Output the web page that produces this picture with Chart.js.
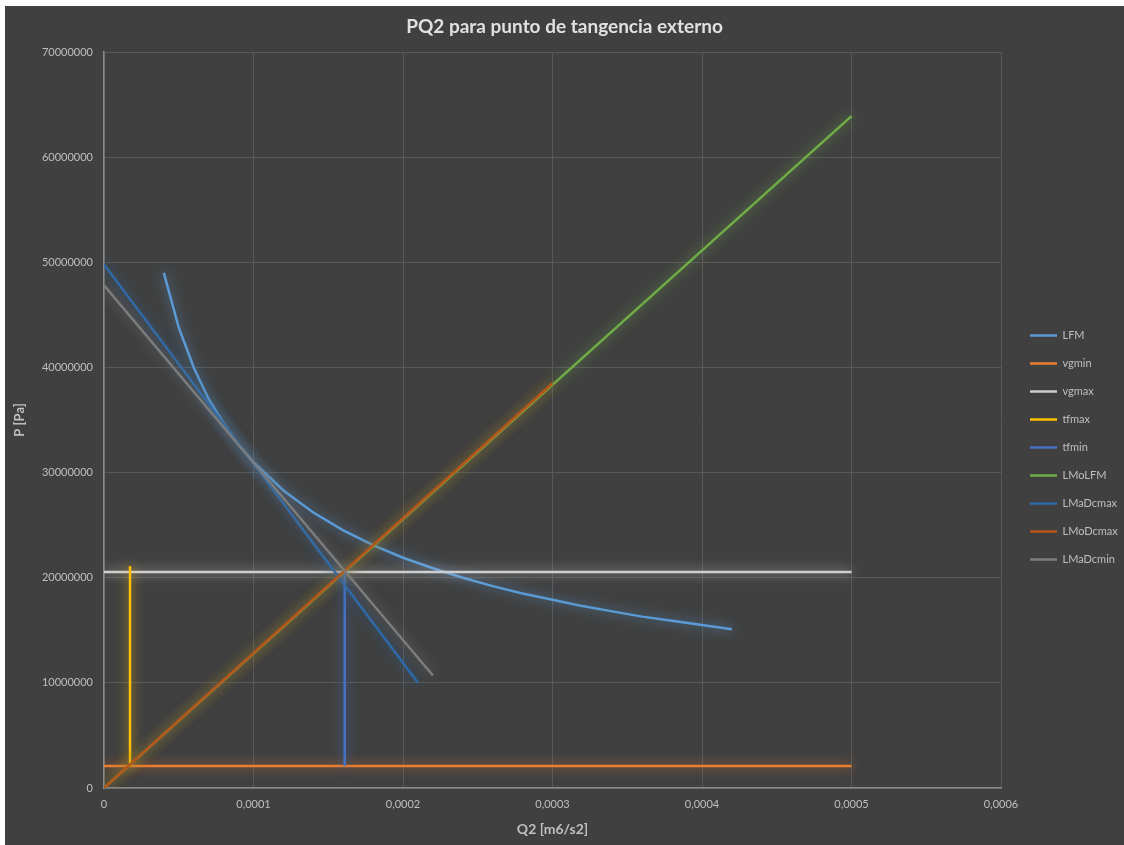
<!DOCTYPE html>
<html>
<head>
<meta charset="utf-8">
<title>PQ2 para punto de tangencia externo</title>
<script src="https://cdn.jsdelivr.net/npm/chart.js@4/dist/chart.umd.min.js"></script>
<style>
  html, body { margin: 0; padding: 0; background: #ffffff; }
  #wrap { position: absolute; left: 5px; top: 6px; width: 1119px; height: 839px; background: #404040; }
  canvas { display: block; }
</style>
</head>
<body>
<div id="wrap"><canvas id="chart" width="1119" height="839"></canvas></div>
<script>
// Series data: Q2 [m6/s2] on x, P [Pa] on y
const lfmQ = [0.00004, 0.00005, 0.00006, 0.00007, 0.00008, 0.00009, 0.0001, 0.00012, 0.00014,
              0.00016, 0.00018, 0.0002, 0.00022, 0.00024, 0.00026, 0.00028, 0.0003, 0.00032,
              0.00034, 0.00036, 0.00038, 0.0004, 0.00042];
const lfmP = [49000000, 43800000, 40000000, 37000000, 34700000, 32700000, 31000000, 28300000, 26200000,
              24500000, 23100000, 21900000, 20900000, 20000000, 19200000, 18500000, 17900000, 17300000,
              16800000, 16300000, 15900000, 15500000, 15100000];

const vgminQ = [0, 0.0005];
const vgminP = [2100000, 2100000];

const vgmaxQ = [0, 0.0005];
const vgmaxP = [20550000, 20550000];

const tfmaxQ = [0.0000174, 0.0000174];
const tfmaxP = [2100000, 21100000];

const tfminQ = [0.000161, 0.000161];
const tfminP = [2100000, 20550000];

const lmolfmQ = [0, 0.0005];
const lmolfmP = [0, 63900000];

const lmadcmaxQ = [0, 0.00021];
const lmadcmaxP = [49800000, 10000000];

const lmodcmaxQ = [0, 0.0003];
const lmodcmaxP = [0, 38500000];

const lmadcminQ = [0, 0.00022];
const lmadcminP = [47800000, 10700000];

// Axis ticks
const qTicks = [0, 0.0001, 0.0002, 0.0003, 0.0004, 0.0005, 0.0006];
const pTicks = [0, 10000000, 20000000, 30000000, 40000000, 50000000, 60000000, 70000000];

const seriesNames = ['LFM', 'vgmin', 'vgmax', 'tfmax', 'tfmin', 'LMoLFM', 'LMaDcmax', 'LMoDcmax', 'LMaDcmin'];
const seriesQ = [lfmQ, vgminQ, vgmaxQ, tfmaxQ, tfminQ, lmolfmQ, lmadcmaxQ, lmodcmaxQ, lmadcminQ];
const seriesP = [lfmP, vgminP, vgmaxP, tfmaxP, tfminP, lmolfmP, lmadcmaxP, lmodcmaxP, lmadcminP];
const seriesColors = ['#5b9bd5', '#ed7d31', '#cfcfcf', '#ffc000', '#4472c4', '#70ad47', '#2e6aa8', '#b5561a', '#7c7c7c'];

const FONT = 'Lato, "Open Sans", sans-serif';

function toPoints(xs, ys) {
  return xs.map((x, i) => ({ x: x, y: ys[i] }));
}

function rgba(hex, a) {
  const n = parseInt(hex.slice(1), 16);
  return 'rgba(' + ((n >> 16) & 255) + ',' + ((n >> 8) & 255) + ',' + (n & 255) + ',' + a + ')';
}

const datasets = seriesNames.map((name, i) => ({
  label: name,
  data: toPoints(seriesQ[i], seriesP[i]),
  borderColor: seriesColors[i],
  backgroundColor: seriesColors[i],
  borderWidth: 2.5,
  pointRadius: 0,
  tension: 0,
  fill: false,
  order: -i            // later series paint over earlier ones
}));

// Soft glow around each line
const glowPlugin = {
  id: 'glow',
  beforeDatasetDraw(chart, args) {
    const ds = chart.data.datasets[args.index];
    const ctx = chart.ctx;
    ctx.save();
    ctx.shadowColor = rgba(ds.borderColor, 0.9);
    ctx.shadowBlur = 12;
  },
  afterDatasetDraw(chart) {
    chart.ctx.restore();
  }
};

// Fixed legend column width and placement on the right
const legendPlacement = {
  id: 'legendPlacement',
  beforeUpdate(chart) {
    const lg = chart.legend;
    if (lg && !lg._fixedWidth) {
      const fit = lg.fit.bind(lg);
      lg.fit = function () { fit(); this.width = 123; };
      lg._fixedWidth = true;
    }
  },
  afterLayout(chart) {
    const lg = chart.legend;
    lg.left += 12; lg.right += 12;
    lg.top += 22; lg.bottom += 22;
  }
};

new Chart(document.getElementById('chart'), {
  type: 'line',
  data: { datasets: datasets },
  plugins: [glowPlugin, legendPlacement],
  options: {
    responsive: false,
    animation: false,
    devicePixelRatio: 1,
    layout: { padding: 0 },
    plugins: {
      title: {
        display: true,
        text: 'PQ2 para punto de tangencia externo',
        color: '#e0e0e0',
        font: { family: FONT, size: 19, weight: 'bold' },
        padding: { top: 9.5, bottom: 13.7 }
      },
      legend: {
        position: 'right',
        labels: {
          color: '#bfbfbf',
          font: { family: FONT, size: 11 },
          usePointStyle: true,
          pointStyle: 'line',
          pointStyleWidth: 27,
          padding: 17,
          sort: (a, b) => a.datasetIndex - b.datasetIndex
        }
      },
      tooltip: { enabled: false }
    },
    scales: {
      x: {
        type: 'linear',
        min: 0,
        max: 0.0006,
        afterBuildTicks(scale) { scale.ticks = qTicks.map(v => ({ value: v })); },
        afterFit(scale) { scale.height = 57; },
        ticks: {
          color: '#bfbfbf',
          font: { family: FONT, size: 11 },
          padding: 10,
          maxRotation: 0,
          callback: v => (v === 0 ? '0' : v.toFixed(4).replace('.', ','))
        },
        grid: { color: '#595959', lineWidth: 1, drawTicks: false },
        border: { color: '#8a8a8a', width: 1.5 },
        title: {
          display: true,
          text: 'Q2 [m6/s2]',
          color: '#bfbfbf',
          font: { family: FONT, size: 14, weight: 'bold' },
          padding: { top: 0, bottom: 7.6 }
        }
      },
      y: {
        type: 'linear',
        min: 0,
        max: 70000000,
        afterBuildTicks(scale) { scale.ticks = pTicks.map(v => ({ value: v })); },
        afterFit(scale) { scale.width = 99; },
        ticks: {
          color: '#bfbfbf',
          font: { family: FONT, size: 11 },
          padding: 11,
          callback: v => String(v)
        },
        grid: { color: '#595959', lineWidth: 1, drawTicks: false },
        border: { color: '#8a8a8a', width: 1.5 },
        title: {
          display: true,
          text: 'P [Pa]',
          color: '#bfbfbf',
          font: { family: FONT, size: 13, weight: 'bold' },
          padding: { top: 7, bottom: 0 }
        }
      }
    }
  }
});
</script>
</body>
</html>
